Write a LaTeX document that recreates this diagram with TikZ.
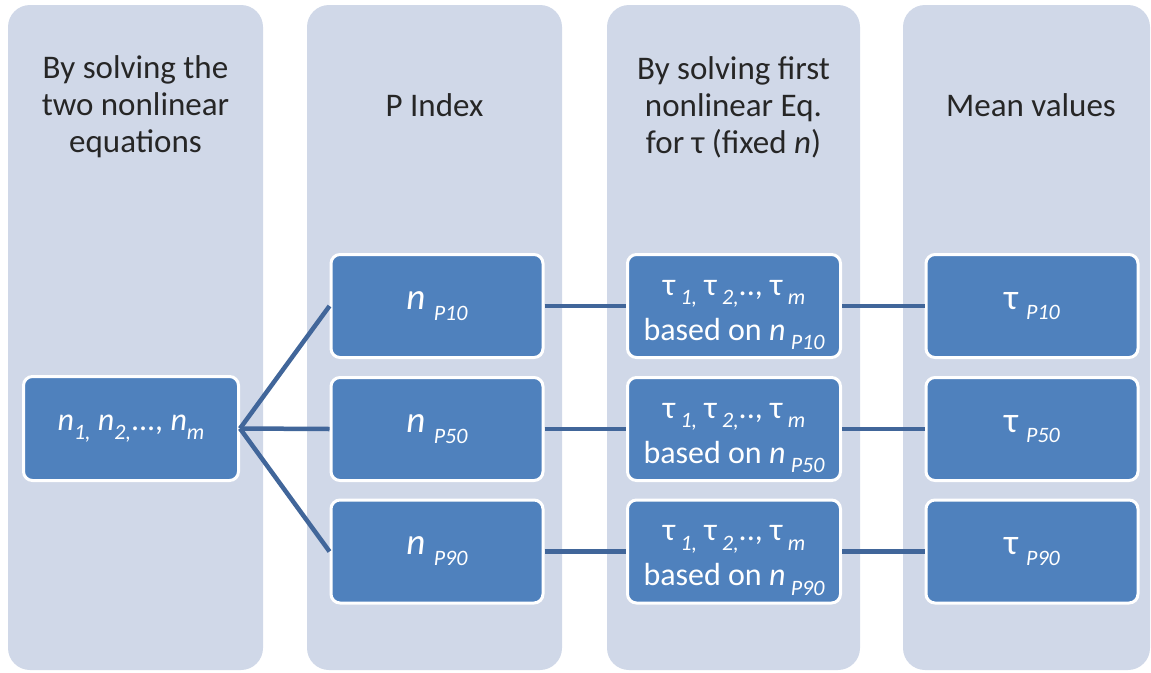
\documentclass[tikz,border=0pt]{standalone}
\usepackage{fontspec}
\setmainfont{Carlito}
\definecolor{panelfill}{HTML}{D0D8E8}
\definecolor{boxfill}{HTML}{4F81BD}
\definecolor{linkcol}{HTML}{41669A}
\definecolor{headcol}{HTML}{262626}
% small italic subscript, lowered below the baseline
\newcommand{\sbs}[1]{\raisebox{-0.3em}{\fontsize{22}{22}\selectfont\itshape #1}}
\newcommand{\nvar}{\textit{n}}
\begin{document}
\begin{tikzpicture}[x=1pt,y=-1pt,
  panel/.style={fill=panelfill, rounded corners=22pt},
  header/.style={text=headcol, align=center, font=\fontsize{33}{37}\selectfont, inner sep=0pt},
  valbox/.style={draw=white, line width=3pt, fill=boxfill, rounded corners=9pt,
    text=white, align=center, font=\fontsize{32}{36}\selectfont,
    minimum width=212pt, minimum height=103pt, inner sep=0pt},
  boxline/.style={text=white, font=\fontsize{32}{36}\selectfont, inner sep=0pt, anchor=base},
  link/.style={draw=linkcol, line width=4.5pt}]
\useasboundingbox (0,0) rectangle (1151,672);

% column panels
\fill[panel] (8,5) rectangle (263,670);
\fill[panel] (307,5) rectangle (562,670);
\fill[panel] (607,5) rectangle (860,670);
\fill[panel] (903,5) rectangle (1150,670);

% column headings
\node[header] (h1) at (135.5,107) {By solving the\\two nonlinear\\equations};
\node[header] (h2) at (434.5,105) {P Index};
\node[header] (h3) at (733.5,107) {By solving first\\nonlinear Eq.\\for τ (fixed \textit{n})};
\node[header] (h4) at (1031,105) {Mean values};

% value boxes
\node[valbox, minimum width=215pt, minimum height=104pt] (src) at (131,428.5)
  {\nvar\sbs{1,} \nvar\sbs{2,}..., \nvar\sbs{m}};

\node[valbox] (p10) at (437,306) {\fontsize{37}{37}\selectfont\nvar\ \sbs{P10}};
\node[valbox] (p50) at (437,429) {\fontsize{37}{37}\selectfont\nvar\ \sbs{P50}};
\node[valbox] (p90) at (437,551.5) {\fontsize{37}{37}\selectfont\nvar\ \sbs{P90}};

% tau boxes: two lines each, baselines placed explicitly
\foreach \nm/\yc/\pc in {t10/306/P10, t50/429/P50, t90/551.5/P90}{
  \node[valbox, minimum width=213pt] (\nm) at (734,\yc) {};
  \node[boxline] (\nm a) at ([yshift=11pt]\nm.center) {τ\,\sbs{1,} τ\,\sbs{2,}.., τ\,\sbs{m}};
  \node[boxline] (\nm b) at ([yshift=-45pt]\nm a.base) {based on \nvar\,\sbs{\pc}};
}

\node[valbox] (m10) at (1032,306) {\fontsize{36}{36}\selectfont τ \sbs{P10}};
\node[valbox] (m50) at (1032,429) {\fontsize{36}{36}\selectfont τ \sbs{P50}};
\node[valbox] (m90) at (1032,551.5) {\fontsize{36}{36}\selectfont τ \sbs{P90}};

% connectors
\draw[link] (src.east) -- (p10.west);
\draw[link] (src.east) -- (p50.west);
\draw[link] (src.east) -- (p90.west);
\draw[link] (p10.east) -- (t10.west);
\draw[link] (p50.east) -- (t50.west);
\draw[link] (p90.east) -- (t90.west);
\draw[link] (t10.east) -- (m10.west);
\draw[link] (t50.east) -- (m50.west);
\draw[link] (t90.east) -- (m90.west);
\end{tikzpicture}
\end{document}
